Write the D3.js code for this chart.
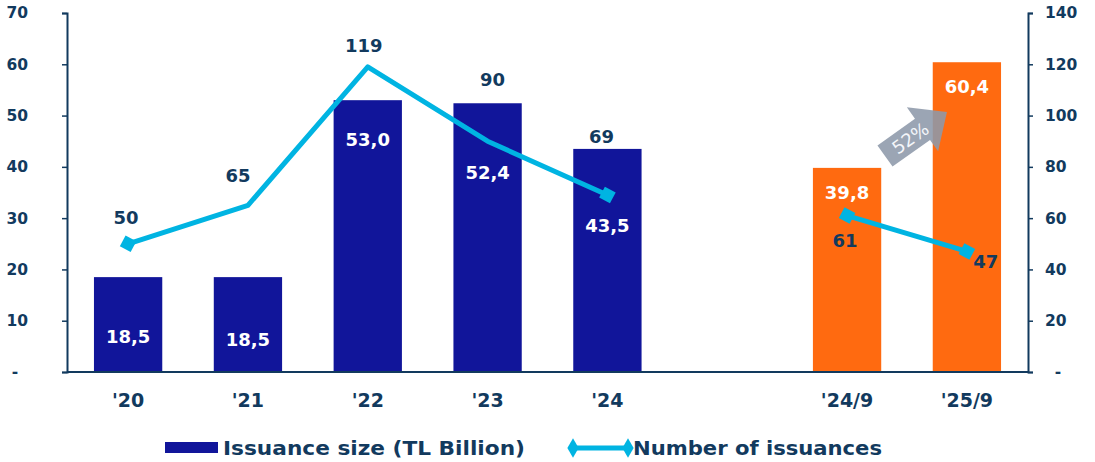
<!DOCTYPE html>
<html>
<head>
<meta charset="utf-8">
<script src="https://cdn.jsdelivr.net/npm/d3@7"></script>
<style>
  body { margin: 0; background: #fff; }
  text { font-family: "DejaVu Sans", Verdana, sans-serif; font-weight: bold; }
</style>
</head>
<body>
<div id="chart"></div>
<script>
// categories ("" is the empty slot between '24 and '24/9)
var categories = ["'20", "'21", "'22", "'23", "'24", "", "'24/9", "'25/9"];
var issuanceSize = [18.5, 18.5, 53.0, 52.4, 43.5, null, 39.8, 60.4];
var issuanceCount = [50, 65, 119, 90, 69, null, 61, 47];
var sizeLabels = ["18,5", "18,5", "53,0", "52,4", "43,5", null, "39,8", "60,4"];
var leftTicks = [0, 10, 20, 30, 40, 50, 60, 70];
var rightTicks = [0, 20, 40, 60, 80, 100, 120, 140];
var growthLabel = "52%";

var W = 1095, H = 462;
var navy = "#11159a", orange = "#ff6a10", cyan = "#00b4e2", ink = "#123a5e";

var svg = d3.select("#chart").append("svg")
    .attr("width", W)
    .attr("height", H);

var x = d3.scaleBand().domain(categories)
    .range([67, 1028]).paddingInner(0.43).paddingOuter(0.225);
var yL = d3.scaleLinear().domain([0, 70]).range([372, 13]);
var yR = d3.scaleLinear().domain([0, 140]).range([372, 13]);
function cx(c) { return x(c) + x.bandwidth() / 2; }

// bars
svg.selectAll("rect.bar")
  .data(categories.map(function(c, i) { return {c: c, v: issuanceSize[i], i: i}; })
    .filter(function(d) { return d.v != null; }))
  .enter().append("rect")
    .attr("class", "bar")
    .attr("x", function(d) { return x(d.c); })
    .attr("width", x.bandwidth())
    .attr("y", function(d) { return yL(d.v); })
    .attr("height", function(d) { return yL(0) - yL(d.v); })
    .attr("fill", function(d) { return d.i > 5 ? orange : navy; });

// axes
var axL = svg.append("g").attr("transform", "translate(67,0)")
  .call(d3.axisLeft(yL).tickValues(leftTicks).tickSize(5).tickPadding(34)
    .tickFormat(function(d) { return d === 0 ? "-" : d; }));
var axR = svg.append("g").attr("transform", "translate(1028,0)")
  .call(d3.axisRight(yR).tickValues(rightTicks).tickSize(5).tickPadding(12)
    .tickFormat(function(d) { return d === 0 ? "-" : d; }));
[axL, axR].forEach(function(ax) {
  ax.select(".domain").attr("stroke", ink).attr("stroke-width", 2);
  ax.selectAll(".tick line").attr("stroke", ink).attr("stroke-width", 1.5);
  ax.selectAll(".tick text").attr("fill", ink)
    .style("font-size", "15.5px").style("font-family", "DejaVu Sans, sans-serif")
    .style("font-weight", "bold");
});
axL.selectAll(".tick text").filter(function(d) { return d === 0; })
  .attr("text-anchor", "middle").attr("x", -52);
axR.selectAll(".tick text").filter(function(d) { return d === 0; })
  .attr("text-anchor", "middle").attr("x", 30);

// baseline
svg.append("line")
  .attr("x1", 67).attr("x2", 1028)
  .attr("y1", yL(0)).attr("y2", yL(0))
  .attr("stroke", ink).attr("stroke-width", 2);

// x labels
svg.selectAll("text.xl")
  .data(categories.filter(function(c) { return c !== ""; }))
  .enter().append("text")
    .attr("class", "xl")
    .attr("x", cx)
    .attr("y", 407)
    .attr("text-anchor", "middle")
    .attr("fill", ink)
    .style("font-size", "19px")
    .text(function(d) { return d; });

// line (two segments, broken at the empty slot)
var pts = categories.map(function(c, i) {
  return {c: c, v: issuanceCount[i], i: i};
});
var line = d3.line()
  .defined(function(d) { return d.v != null; })
  .x(function(d) { return cx(d.c); })
  .y(function(d) { return yR(d.v); });
svg.append("path")
  .datum(pts)
  .attr("d", line)
  .attr("fill", "none")
  .attr("stroke", cyan)
  .attr("stroke-width", 5)
  .attr("stroke-linejoin", "round");

var marker = d3.symbol().type(d3.symbolSquare).size(150);
svg.selectAll("path.mk")
  .data(pts.filter(function(d) { return d.v != null && (d.i === 0 || d.i === 4 || d.i > 5); }))
  .enter().append("path")
    .attr("class", "mk")
    .attr("d", marker)
    .attr("fill", cyan)
    .attr("transform", function(d) {
      return "translate(" + cx(d.c) + "," + yR(d.v) + ") rotate(28)";
    });

// bar value labels (placed by hand to stay clear of the line)
var sizeLabelY = [337, 340, 140, 173, 226, null, 193, 87];
svg.selectAll("text.bl")
  .data(pts.filter(function(d) { return sizeLabels[d.i] != null; }))
  .enter().append("text")
    .attr("class", "bl")
    .attr("x", function(d) { return cx(d.c); })
    .attr("y", function(d) { return sizeLabelY[d.i]; })
    .attr("dy", "0.35em")
    .attr("text-anchor", "middle")
    .attr("fill", "#fff")
    .style("font-size", "18px")
    .text(function(d) { return sizeLabels[d.i]; });

// count labels
var countDx = [-2, -10, -4, 5, -6, 0, -2, 19];
var countDy = [-26, -30, -21, -62, -58, 0, 25, 10];
svg.selectAll("text.cl")
  .data(pts.filter(function(d) { return d.v != null; }))
  .enter().append("text")
    .attr("class", "cl")
    .attr("x", function(d) { return cx(d.c) + countDx[d.i]; })
    .attr("y", function(d) { return yR(d.v) + countDy[d.i]; })
    .attr("dy", "0.35em")
    .attr("text-anchor", "middle")
    .attr("fill", ink)
    .style("font-size", "18px")
    .text(function(d) { return d.v; });

// growth arrow
var arrow = svg.append("g")
  .attr("transform", "translate(885,156) rotate(-35.4)");
arrow.append("path")
  .attr("d", "M0,-13 L46,-13 L46,-27 L76,0 L46,27 L46,13 L0,13 Z")
  .attr("fill", "#8d99aa")
  .attr("fill-opacity", 0.88);
arrow.append("text")
  .attr("x", 31).attr("y", 0)
  .attr("dy", "0.36em")
  .attr("text-anchor", "middle")
  .attr("fill", "#f4f6fa")
  .style("font-weight", "normal")
  .style("font-size", "18px")
  .text(growthLabel);

// legend
var lg = svg.append("g");
lg.append("rect")
  .attr("x", 165).attr("y", 442).attr("width", 53).attr("height", 11)
  .attr("fill", navy);
lg.append("text")
  .attr("x", 223).attr("y", 448).attr("dy", "0.36em")
  .attr("fill", ink)
  .attr("textLength", 302).attr("lengthAdjust", "spacingAndGlyphs")
  .style("font-size", "20px")
  .text("Issuance size (TL Billion)");
lg.append("line")
  .attr("x1", 573).attr("x2", 628).attr("y1", 448).attr("y2", 448)
  .attr("stroke", cyan).attr("stroke-width", 5);
lg.selectAll("path.lm").data([573, 628]).enter().append("path")
  .attr("class", "lm")
  .attr("d", d3.symbol().type(d3.symbolDiamond).size(110))
  .attr("fill", cyan)
  .attr("transform", function(d) { return "translate(" + d + ",448)"; });
lg.append("text")
  .attr("x", 633).attr("y", 448).attr("dy", "0.36em")
  .attr("fill", ink)
  .attr("textLength", 249).attr("lengthAdjust", "spacingAndGlyphs")
  .style("font-size", "20px")
  .text("Number of issuances");
</script>
</body>
</html>
